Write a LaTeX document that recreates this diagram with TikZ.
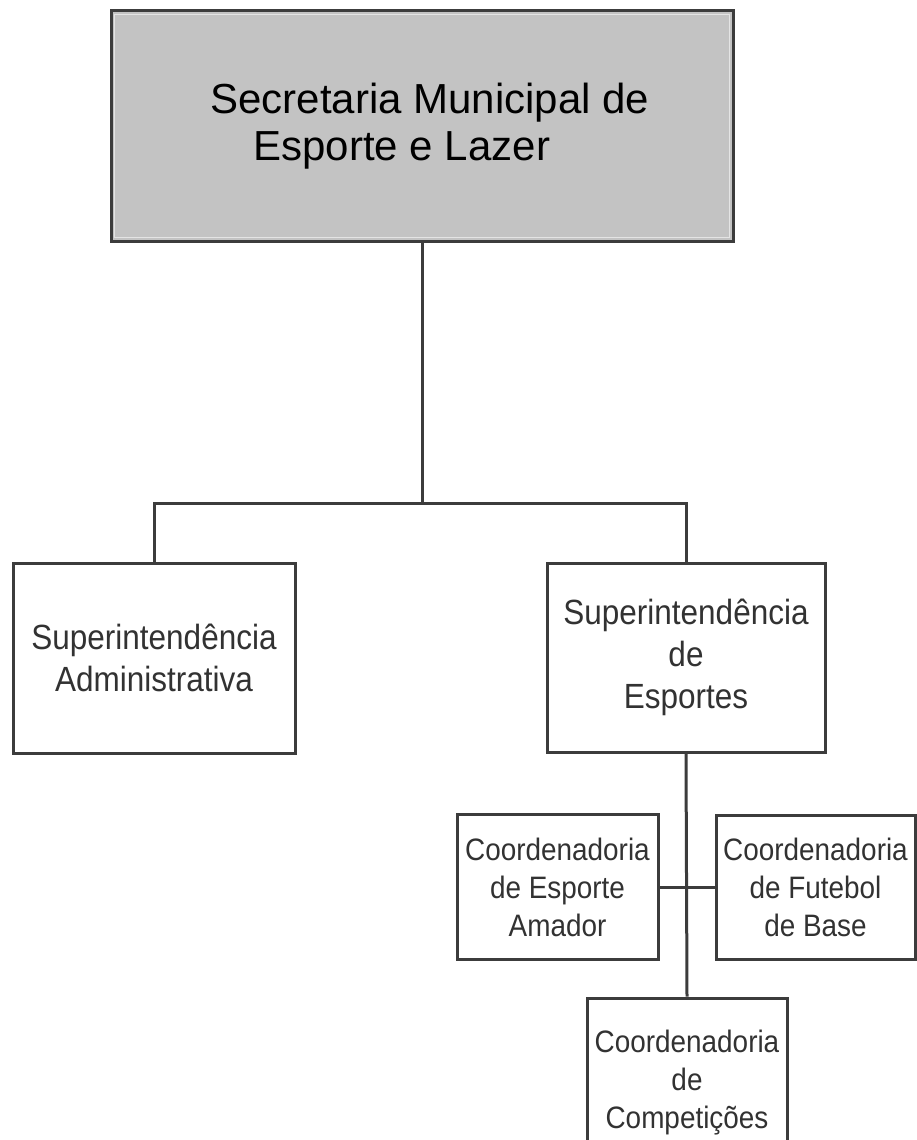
\documentclass[tikz,border=0pt]{standalone}
\usepackage{fontspec}
\setmainfont{Liberation Sans}
\newfontfamily\narrowsans[FakeStretch=0.9]{Liberation Sans}
\usetikzlibrary{positioning, calc}

\definecolor{boxgray}{RGB}{195,195,195}
\definecolor{bevelgray}{RGB}{228,228,228}
\definecolor{linegray}{RGB}{60,60,60}
\definecolor{textgray}{RGB}{50,50,50}

\begin{document}
\begin{tikzpicture}[x=1pt,y=-1pt]
		\tikzstyle{unit}=[draw=linegray,line width=3pt,fill=white,text=textgray,align=center,inner sep=0pt]
		\tikzstyle{superint}=[unit,font=\narrowsans\fontsize{35}{42}\selectfont]
		\tikzstyle{coord}=[unit,font=\narrowsans\fontsize{31}{38}\selectfont]
		\tikzstyle{wire}=[draw=linegray,line width=3pt]
		
		\useasboundingbox[fill=white] (0,0) rectangle (916,1140);
		
		\node[unit,fill=boxgray,text=black,align=left,minimum width=622pt,minimum height=230pt,font=\fontsize{42}{47}\selectfont] (A) at (422,126) {\hspace*{16pt}Secretaria Municipal de\\\hspace*{59pt}Esporte e Lazer};
		\draw[line width=1.5pt,draw=bevelgray] ([shift={(5,5)}]A.north west) rectangle ([shift={(-5,-5)}]A.south east);
		
		\node[superint,minimum width=282pt,minimum height=190pt] (B) at (154,658) {Superintendência\\Administrativa};
		\node[superint,minimum width=278pt,minimum height=189pt] (C) at (686,657.5) {Superintendência\\de\\Esportes};
		\node[coord,minimum width=201pt,minimum height=145pt] (D) at (557.5,887) {Coordenadoria\\de Esporte\\Amador};
		\node[coord,minimum width=199pt,minimum height=144pt] (E) at (815.5,887) {Coordenadoria\\de Futebol\\de Base};
		\node[coord,minimum width=200pt,minimum height=170pt] (F) at (687,1083) {Coordenadoria\\de\\Competições};
		
		\coordinate (H) at (422,503);
		\draw[wire] (A.south) -- (H);
		\draw[wire] (B.north) |- (H) -| (C.north);
		\draw[wire] (C.south) -- (F.north);
		\draw[wire] (D.east) -- (E.west);
	\end{tikzpicture}
\end{document}
